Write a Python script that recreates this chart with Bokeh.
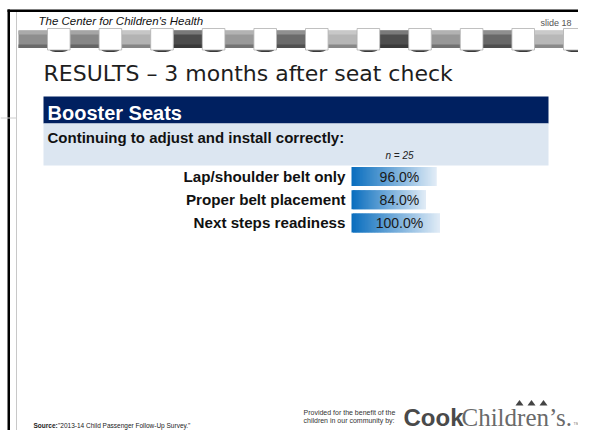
from bokeh.plotting import figure
from bokeh.models import Range1d, ColumnDataSource
from bokeh.core.properties import value
from bokeh.embed import file_html
from bokeh.resources import INLINE

# ---------------- data ----------------
header_text = "The Center for Children's Health"
slide_text = "slide 18"
title_text = "RESULTS \u2013 3 months after seat check"
section_text = "Booster Seats"
question_text = "Continuing to adjust and install correctly:"
n_text = "n = 25"
categories = ["Lap/shoulder belt only", "Proper belt placement", "Next steps readiness"]
percent = [96.0, 84.0, 100.0]
provided_lines = ["Provided for the benefit of the", "children in our community by:"]
source_label = "Source:"
source_text = "\"2013-14 Child Passenger Follow-Up Survey.\""
chain_shades = ["#8e8e8e", "#878787", "#b3b3b3", "#4c4c4c", "#9a9a9a", "#6b6b6b",
                "#b6b6b6", "#4e4e4e", "#989898", "#686868", "#b8b8b8", "#525252"]

# ---------------- figure ----------------
W, H = 578, 430
X0, Y0 = 0, 0
p = figure(width=W, height=H, x_range=Range1d(X0, X0 + W), y_range=Range1d(Y0 + H, Y0),
           output_backend="svg", toolbar_location=None, min_border=0,
           x_axis_location=None, y_axis_location=None, outline_line_color=None,
           background_fill_color="white", border_fill_color="white")
p.grid.visible = False

SANS = "Liberation Sans"


def txt(x, y, s, size, color="#000000", style="normal", font=SANS, align="left",
        baseline="middle", **kw):
    p.text(x=[x], y=[y], text=[s], text_font=value(font), text_font_size=f"{size}px",
           text_font_style=style, text_color=color, text_align=align,
           text_baseline=baseline, **kw)


# frame
p.quad(left=7, right=W, top=9, bottom=11.5, fill_color="black", line_color=None)
p.quad(left=7, right=9.5, top=9, bottom=H, fill_color="black", line_color=None)
p.segment(x0=16, y0=11.5, x1=16, y1=H, line_color="#c8c8c8", line_width=1)
p.segment(x0=0, y0=117.5, x1=16, y1=117.5, line_color="#cccccc", line_width=1)

# header
txt(38, 20, header_text, 11.5, color="#111111", style="italic")
txt(540, 22, slide_text, 9, color="#555555")


# chain decoration
def mix(hexc, f, target):
    c = [int(hexc[i:i + 2], 16) for i in (1, 3, 5)]
    c = [round(a + (target - a) * f) for a in c]
    return "#%02x%02x%02x" % tuple(c)


for k, shade in enumerate(chain_shades):
    sl = 18 + 51.6 * k
    p.quad(left=sl, right=sl + 29.2, top=30, bottom=47.5, fill_color=shade, line_color=None)
    p.quad(left=sl, right=sl + 29.2, top=30, bottom=34, fill_color=mix(shade, 0.25, 255), line_color=None)
    p.quad(left=sl, right=sl + 29.2, top=44, bottom=47.5, fill_color=mix(shade, 0.25, 0), line_color=None)
for k in range(11):
    ll = 47 + 51.6 * k
    p.ellipse(x=ll + 11.3, y=49.5, width=18, height=4, fill_color="#3a3a3a", line_color=None)
    p.quad(left=ll, right=ll + 22.6, top=28, bottom=49.5, fill_color="white",
           line_color="#b0b0b0", line_width=0.8)

# title
txt(43, 73, title_text, 22, color="#1e1e1e", font="DejaVu Sans")

# section bands
p.quad(left=43, right=548, top=96, bottom=123, fill_color="#002060", line_color=None)
p.quad(left=43, right=548, top=123, bottom=165, fill_color="#dce6f1", line_color=None)
txt(47, 112, section_text, 20, color="white", style="bold")
txt(47, 137, question_text, 15, color="#111111", style="bold")
txt(385, 154.5, n_text, 10, color="#222222", style="italic")

# bars on their own scales
PX_PER_PCT = 0.885
BAR0 = 351
ROW0, ROW_STEP = 176, 23.2
p.extra_x_ranges = {"pct": Range1d(start=(X0 - BAR0) / PX_PER_PCT, end=(X0 + W - BAR0) / PX_PER_PCT)}
p.extra_y_ranges = {"row": Range1d(start=(Y0 + H - ROW0) / ROW_STEP, end=(Y0 - ROW0) / ROW_STEP)}

rows = list(range(len(categories)))
c_left = (10, 110, 190)
c_right = (224, 235, 246)
N = 60
sl_y, sl_l, sl_r, sl_c = [], [], [], []
for i, v in zip(rows, percent):
    for j in range(N):
        t = j / (N - 1)
        col = tuple(round(a + (b - a) * t) for a, b in zip(c_left, c_right))
        sl_y.append(i)
        sl_l.append(v * j / N)
        sl_r.append(min(v, v * (j + 2) / N))
        sl_c.append("#%02x%02x%02x" % col)
src = ColumnDataSource(dict(y=sl_y, l=sl_l, r=sl_r, c=sl_c))
p.hbar(y="y", left="l", right="r", height=0.82, fill_color="c", line_color=None,
       source=src, x_range_name="pct", y_range_name="row")

lab = ColumnDataSource(dict(y=rows, cat=categories, val=[f"{v:.1f}%" for v in percent]))
p.text(x=-6.8, y="y", text="cat", source=lab, text_font=value(SANS), text_font_size="15.2px",
       text_font_style="bold", text_color="#111111", text_align="right", text_baseline="middle",
       x_range_name="pct", y_range_name="row")
p.text(x=54.2, y="y", text="val", source=lab, text_font=value(SANS), text_font_size="14px",
       text_color="#1a1a1a", text_align="center", text_baseline="middle",
       x_range_name="pct", y_range_name="row")

# footer (nudged up slightly so it fits inside the page)
txt(303, 412, provided_lines[0], 7, color="#333333")
txt(303, 419.5, provided_lines[1], 7, color="#333333")
txt(403, 416.5, "Cook", 24, color="#4a4a4a", style="bold")
txt(461, 416.5, "Children\u2019s.", 25, color="#6a6a6a", font="Liberation Serif")
txt(573, 423, "TM", 3.5, color="#777777")
p.patches(xs=[[515, 523, 519], [527, 535, 531], [539, 547, 543]],
          ys=[[405, 405, 399.5], [405, 405, 399.5], [405, 405, 399.5]],
          fill_color="#444444", line_color=None)
txt(33, 425, source_label, 6.5, color="#222222", style="bold")
txt(57.5, 425, source_text, 6.5, color="#222222")

open("out.html", "w").write(file_html(p, INLINE))
